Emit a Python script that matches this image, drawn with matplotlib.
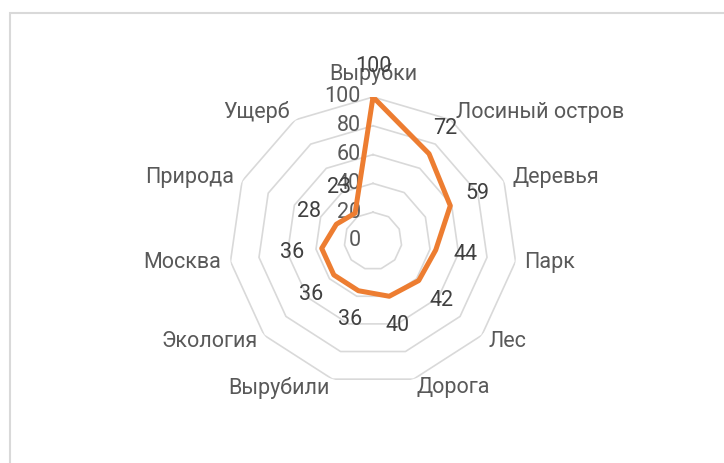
import numpy as np
import matplotlib.pyplot as plt
from matplotlib.patches import Rectangle

categories = ["Вырубки", "Лосиный остров", "Деревья", "Парк", "Лес", "Дорога",
              "Вырубили", "Экология", "Москва", "Природа", "Ущерб"]
values = [100, 72, 59, 44, 42, 40, 36, 36, 36, 28, 23]
rings = [20, 40, 60, 80, 100]
tick_labels = ["0", "20", "40", "60", "80", "100"]

plt.rcParams["font.family"] = ["Roboto", "DejaVu Sans"]
FS = 15.5
LINE = "#ED7D31"
GRID = "#D9D9D9"

fig = plt.figure(figsize=(7.24, 4.63), dpi=100)
ax = fig.add_axes([0.3163, 0.1685, 0.3978, 0.622], projection="polar")
ax.set_theta_zero_location("N")
ax.set_theta_direction(-1)
ax.set_ylim(0, 100)
ax.grid(False)
ax.spines["polar"].set_visible(False)
ax.set_xticks([])
ax.set_yticks([])
ax.patch.set_alpha(0)

n = len(categories)
theta = np.arange(n) * 2 * np.pi / n
theta_c = np.append(theta, theta[0])

# polygon grid
for r in rings:
    ax.plot(theta_c, [r] * (n + 1), color=GRID, lw=1.2, zorder=1)

# axis tick labels along the top axis
for i, lab in enumerate(tick_labels):
    ax.annotate(lab, (0, i * 20), xytext=(-12, 0), textcoords="offset pixels",
                ha="right", va="center", fontsize=FS, color="#595959")

# data line
vals_c = values + values[:1]
ax.plot(theta_c, vals_c, color=LINE, lw=3.6, solid_joinstyle="round", zorder=3)

# data labels
for t, v in zip(theta, values):
    dx, dy = np.sin(t) * 30, np.cos(t) * 30
    ax.annotate(str(v), (t, v), xytext=(dx, dy), textcoords="offset pixels",
                ha="center", va="center", fontsize=FS, color="#404040", zorder=4)

# category labels
for t, lab in zip(theta, categories):
    s, c = np.sin(t), np.cos(t)
    if abs(s) < 0.1:
        ha, off = "center", 23
    else:
        ha, off = ("left" if s > 0 else "right"), 9
    ax.annotate(lab, (t, 100), xytext=(s * off, c * off), textcoords="offset pixels",
                ha=ha, va="center", fontsize=FS, color="#595959")

# chart area border
fig.patches.append(Rectangle((10 / 724, -0.1), 1.2, 1 - 13 / 463 + 0.1,
                             transform=fig.transFigure, fill=False,
                             edgecolor=GRID, lw=1.5))

fig.savefig("out.png", dpi=100)
